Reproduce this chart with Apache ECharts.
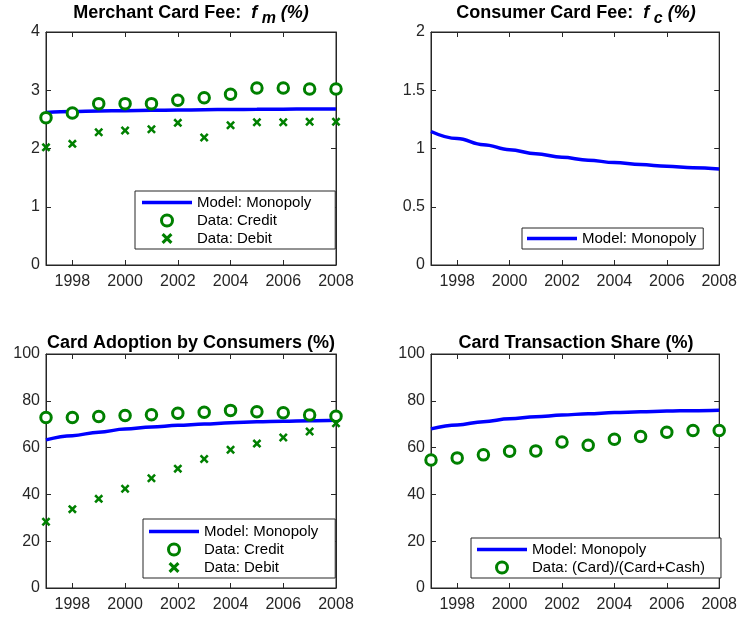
<!DOCTYPE html>
<html>
<head>
<meta charset="utf-8">
<script src="https://cdn.jsdelivr.net/npm/echarts@6/dist/echarts.min.js"></script>
<style>
  html, body { margin: 0; padding: 0; background: #fff; }
  #chart { width: 740px; height: 617px; }
</style>
</head>
<body>
<div id="chart"></div>
<script>
const years = [1997, 1998, 1999, 2000, 2001, 2002, 2003, 2004, 2005, 2006, 2007, 2008];
const yearTicks = [1998, 2000, 2002, 2004, 2006, 2008];

// merchant card fee (%)
const merchantModel = [2.62, 2.635, 2.645, 2.65, 2.655, 2.66, 2.665, 2.67, 2.672, 2.675, 2.678, 2.68];
const merchantCredit = [2.53, 2.61, 2.77, 2.77, 2.77, 2.83, 2.87, 2.93, 3.04, 3.04, 3.02, 3.02];
const merchantDebit = [2.02, 2.08, 2.28, 2.31, 2.33, 2.44, 2.19, 2.40, 2.45, 2.45, 2.46, 2.46];

// consumer card fee (%)
const consumerModel = [1.146, 1.085, 1.033, 0.99, 0.955, 0.925, 0.9, 0.879, 0.862, 0.848, 0.835, 0.824];

// card adoption (%)
const adoptModel = [63.3, 65.1, 66.6, 67.9, 68.8, 69.5, 70.1, 70.6, 71.0, 71.3, 71.5, 71.7];
const adoptCredit = [72.9, 72.9, 73.3, 73.7, 74.0, 74.7, 75.1, 75.9, 75.3, 74.9, 73.9, 73.4];
const adoptDebit = [28.3, 33.7, 38.1, 42.4, 46.9, 51.0, 55.1, 59.1, 61.7, 64.3, 66.9, 70.4];

// card transaction share (%)
const shareModel = [68.0, 69.7, 71.1, 72.3, 73.2, 73.9, 74.5, 74.95, 75.3, 75.6, 75.8, 76.0];
const shareData = [54.7, 55.6, 56.9, 58.4, 58.6, 62.4, 61.0, 63.6, 64.7, 66.6, 67.3, 67.3];

const FONT = "'Liberation Sans', Arial, sans-serif";
const AXIS_COLOR = "#262626";
const BLUE = "#0000ff";
const GREEN = "#008000";
const CROSS = "path://M2,0 L5,3 L8,0 L10,2 L7,5 L10,8 L8,10 L5,7 L2,10 L0,8 L3,5 L0,2 Z";
const LINE_ICON = "path://M0,0 H50 V3.5 H0 Z";

const grids = [
  { left: 46, top: 32, width: 290, height: 233 },
  { left: 431, top: 32, width: 290, height: 233 },
  { left: 46, top: 354, width: 290, height: 234 },
  { left: 431, top: 354, width: 290, height: 234 },
];
const yRanges = [
  { min: 0, max: 4, interval: 1 },
  { min: 0, max: 2, interval: 0.5 },
  { min: 0, max: 100, interval: 20 },
  { min: 0, max: 100, interval: 20 },
];

const pairs = (vals) => years.map((y, i) => [y, vals[i]]);

const xAxis = [];
const yAxis = [];
grids.forEach((g, gi) => {
  const tick = { inside: true, length: 5, lineStyle: { color: AXIS_COLOR } };
  const line = { show: true, onZero: false, lineStyle: { color: AXIS_COLOR } };
  xAxis.push({
    type: "value", gridIndex: gi, position: "bottom", min: 1997, max: 2008,
    axisLine: line, splitLine: { show: false },
    axisTick: { ...tick, customValues: yearTicks },
    axisLabel: {
      customValues: yearTicks, formatter: (v) => String(v),
      color: AXIS_COLOR, fontSize: 16, fontFamily: FONT, margin: 9,
    },
  });
  xAxis.push({
    type: "value", gridIndex: gi, position: "top", min: 1997, max: 2008,
    axisLine: line, splitLine: { show: false },
    axisTick: { ...tick, customValues: yearTicks },
    axisLabel: { show: false },
  });
  yAxis.push({
    type: "value", gridIndex: gi, position: "left", ...yRanges[gi],
    axisLine: line, splitLine: { show: false }, axisTick: tick,
    axisLabel: { color: AXIS_COLOR, fontSize: 16, fontFamily: FONT, margin: 6 },
  });
  yAxis.push({
    type: "value", gridIndex: gi, position: "right", ...yRanges[gi],
    axisLine: line, splitLine: { show: false }, axisTick: tick,
    axisLabel: { show: false },
  });
});

const lineSeries = (gi, vals) => ({
  name: "Model: Monopoly", type: "line", xAxisIndex: 2 * gi, yAxisIndex: 2 * gi,
  data: pairs(vals), symbol: "none", smooth: 0.4, smoothMonotone: "x",
  lineStyle: { color: BLUE, width: 3.5 }, itemStyle: { color: BLUE }, z: 2,
});
const circleSeries = (gi, name, vals) => ({
  name, type: "scatter", xAxisIndex: 2 * gi, yAxisIndex: 2 * gi,
  data: pairs(vals), symbol: "circle", symbolSize: 10.5,
  itemStyle: { color: "#fff", borderColor: GREEN, borderWidth: 3, opacity: 1 }, z: 3,
});
const crossSeries = (gi, name, vals) => ({
  name, type: "scatter", xAxisIndex: 2 * gi, yAxisIndex: 2 * gi,
  data: pairs(vals), symbol: CROSS, symbolSize: 9,
  itemStyle: { color: GREEN, opacity: 1 }, z: 3,
});

const titleRich = {
  b: { fontSize: 18, fontWeight: "bold", fontFamily: FONT, color: "#000", verticalAlign: "top" },
  i: { fontSize: 18, fontWeight: "bold", fontStyle: "italic", fontFamily: FONT, color: "#000", verticalAlign: "top" },
  s: { fontSize: 16, fontWeight: "bold", fontStyle: "italic", fontFamily: FONT, color: "#000", verticalAlign: "top", padding: [7, 0, 0, 0] },
};
const mkTitle = (text, x, y) => ({
  text, left: x, top: y, textAlign: "center", padding: 0,
  textStyle: { fontSize: 18, fontWeight: "bold", fontFamily: FONT, color: "#000", rich: titleRich },
});

const legendItem = (name) => {
  if (name === "Model: Monopoly") return { name, icon: LINE_ICON };
  if (name === "Data: Debit") return { name };
  return { name, itemStyle: { color: "#fff", borderColor: GREEN, borderWidth: 3 } };
};

const mkLegend = (names, left, top, padding) => ({
  data: names.map(legendItem), orient: "vertical", left, top, padding,
  itemWidth: 50, itemHeight: 11, itemGap: 1, align: "left",
  backgroundColor: "#fff", borderColor: AXIS_COLOR, borderWidth: 1, borderRadius: 0,
  selectedMode: false,
  textStyle: { fontSize: 15, lineHeight: 17, fontFamily: FONT, color: "#000" },
});

const option = {
  backgroundColor: "#fff",
  animation: false,
  title: [
    mkTitle("{b|Merchant Card Fee:  }{i|f}{s| m}{i| (%)}", 191, 4),
    mkTitle("{b|Consumer Card Fee:  }{i|f}{s| c}{i| (%)}", 576, 4),
    mkTitle("Card Adoption by Consumers (%)", 191, 334),
    mkTitle("Card Transaction Share (%)", 576, 334),
  ],
  grid: grids.map((g) => ({ ...g, show: true, backgroundColor: "#fff", borderColor: AXIS_COLOR, borderWidth: 1 })),
  xAxis,
  yAxis,
  legend: [
    mkLegend(["Model: Monopoly", "Data: Credit", "Data: Debit"], 135, 191, [3, 24, 2, 7]),
    mkLegend(["Model: Monopoly"], 522, 228, [2, 7, 2, 5]),
    mkLegend(["Model: Monopoly", "Data: Credit", "Data: Debit"], 143, 519, [4, 17, 2, 6]),
    mkLegend(["Model: Monopoly", "Data: (Card)/(Card+Cash)"], 471, 538, [3, 16, 2, 6]),
  ],
  series: [
    lineSeries(0, merchantModel),
    circleSeries(0, "Data: Credit", merchantCredit),
    crossSeries(0, "Data: Debit", merchantDebit),
    lineSeries(1, consumerModel),
    lineSeries(2, adoptModel),
    circleSeries(2, "Data: Credit", adoptCredit),
    crossSeries(2, "Data: Debit", adoptDebit),
    lineSeries(3, shareModel),
    circleSeries(3, "Data: (Card)/(Card+Cash)", shareData),
  ],
};

const myChart = echarts.init(document.getElementById("chart"));
myChart.setOption(option);
window.addEventListener("resize", () => myChart.resize());
</script>
</body>
</html>
